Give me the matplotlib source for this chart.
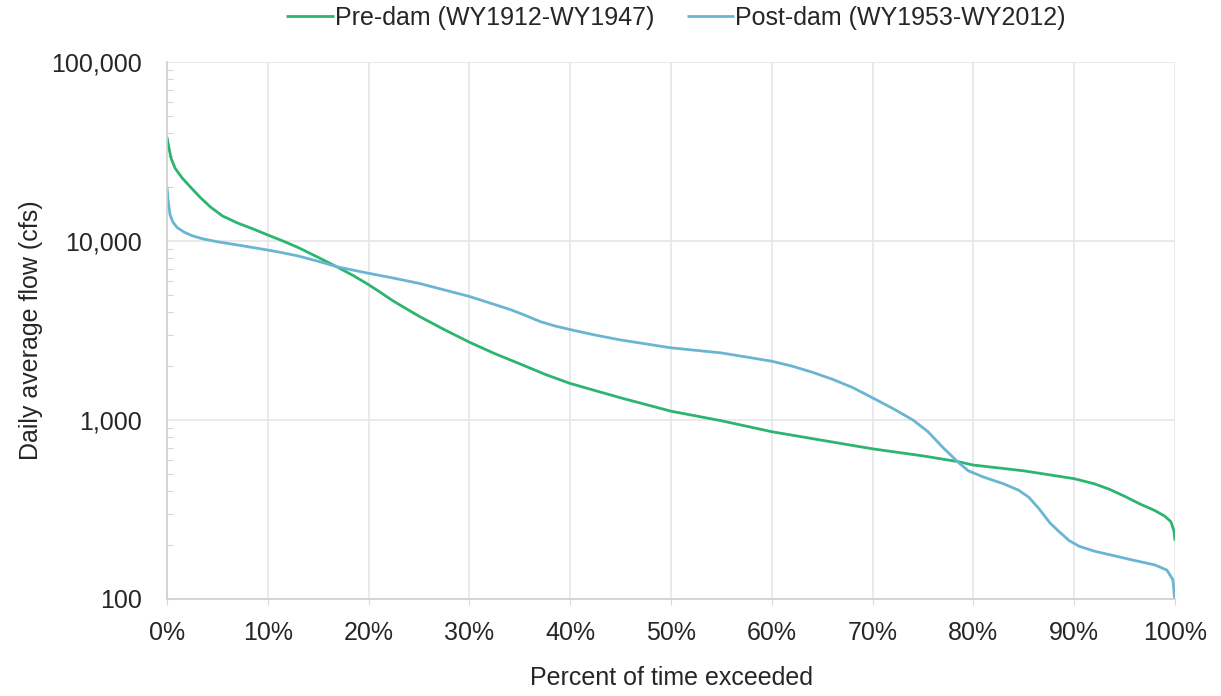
import numpy as np
import matplotlib.pyplot as plt
from matplotlib.ticker import FuncFormatter, LogLocator, NullFormatter

# ── Data (percent exceeded, daily flow cfs) ─────────────────────────────────

pre_pct = [0, 0.15, 0.4, 0.8, 1.5, 2.4, 3.3, 4.3, 5.5, 7, 8.5, 10, 11.5, 13,
           15, 17, 18.5, 20, 21.2, 22.5, 25, 27.5, 30, 32.5, 35, 37.5, 40,
           45, 50, 55, 60, 65, 70, 75, 78.5, 80, 85, 90, 92, 93.5, 95, 96.5,
           98, 99, 99.6, 99.9, 100]
pre_flow = [38000, 34000, 29000, 25500, 22500, 19800, 17500, 15500, 13800,
            12600, 11700, 10800, 10000, 9200, 8100, 7100, 6400, 5700, 5150,
            4600, 3800, 3200, 2720, 2350, 2060, 1800, 1600, 1330, 1120, 990,
            860, 770, 690, 630, 585, 560, 520, 470, 440, 410, 375, 340, 312,
            290, 270, 240, 212]

post_pct = [0, 0.1, 0.3, 0.6, 1, 1.7, 2.5, 3.5, 5, 7, 9, 11, 13, 15, 17, 20,
            22.5, 25, 30, 34, 35.5, 37, 38.5, 40, 42.5, 45, 50, 55, 60, 62,
            64, 66, 68, 70, 72, 74, 75.5, 77, 78.5, 79.5, 81, 83, 84.5,
            85.5, 86.5, 87.6, 88.5, 89.5, 90.5, 92, 95.8, 98, 99.2, 99.8,
            100]
post_flow = [20000, 17000, 14000, 12700, 11900, 11200, 10700, 10300, 9900,
             9500, 9100, 8700, 8250, 7700, 7150, 6600, 6200, 5800, 4900,
             4150, 3850, 3550, 3350, 3200, 2980, 2800, 2530, 2370, 2130,
             2000, 1850, 1690, 1520, 1330, 1160, 1000, 860, 700, 580, 520,
             480, 440, 405, 370, 320, 266, 238, 212, 197, 185, 165, 155, 145,
             128, 95]

series_labels = ["Pre-dam (WY1912-WY1947)", "Post-dam (WY1953-WY2012)"]
series_colors = ["#2db46e", "#6ab6d2"]

x_ticks = list(range(0, 101, 10))
y_ticks = [100, 1000, 10000, 100000]

# ── Figure ──────────────────────────────────────────────────────────────────

plt.rcParams["font.family"] = ["Liberation Sans", "DejaVu Sans"]
FS = 18

fig = plt.figure(figsize=(12.21, 6.96), dpi=100)
ax = fig.add_axes([0.1368, 0.1394, 0.8255, 0.7715])

ax.plot(pre_pct, pre_flow, color=series_colors[0], lw=2.0,
        label=series_labels[0], solid_capstyle="butt")
ax.plot(post_pct, post_flow, color=series_colors[1], lw=2.0,
        label=series_labels[1], solid_capstyle="butt")

ax.set_yscale("log")
ax.set_ylim(100, 100000)
ax.set_xlim(0, 100)

ax.set_xticks(x_ticks)
ax.xaxis.set_major_formatter(FuncFormatter(lambda v, p: f"{v:.0f}%"))
ax.set_yticks(y_ticks)
ax.yaxis.set_major_formatter(FuncFormatter(lambda v, p: f"{v:,.0f}"))
ax.yaxis.set_minor_locator(LogLocator(base=10, subs=np.arange(2, 10)))
ax.yaxis.set_minor_formatter(NullFormatter())

ax.grid(True, which="major", color="#e6e6e6", lw=1.2)
ax.set_axisbelow(True)
for side in ["top", "right"]:
    ax.spines[side].set_visible(False)
for side in ["left", "bottom"]:
    ax.spines[side].set_color("#cfcfcf")
    ax.spines[side].set_linewidth(1.2)

ax.tick_params(axis="both", which="major", labelsize=FS,
               labelcolor="#262626", color="#d9d9d9", length=4, pad=12)
ax.tick_params(axis="y", which="major", length=0, pad=18)
ax.tick_params(axis="y", which="minor", direction="in", length=4,
               color="#cccccc")

ax.set_xlabel("Percent of time exceeded", fontsize=FS, color="#262626",
              labelpad=15)
ax.set_ylabel("Daily average flow (cfs)", fontsize=FS, color="#262626",
              labelpad=6)

ax.legend(loc="lower center", bbox_to_anchor=(0.505, 1.0), ncol=2,
          frameon=False, fontsize=FS, handlelength=1.9,
          handletextpad=0.05, columnspacing=1.3, borderaxespad=0.9,
          labelcolor="#262626")

fig.savefig("out.png", dpi=100)
